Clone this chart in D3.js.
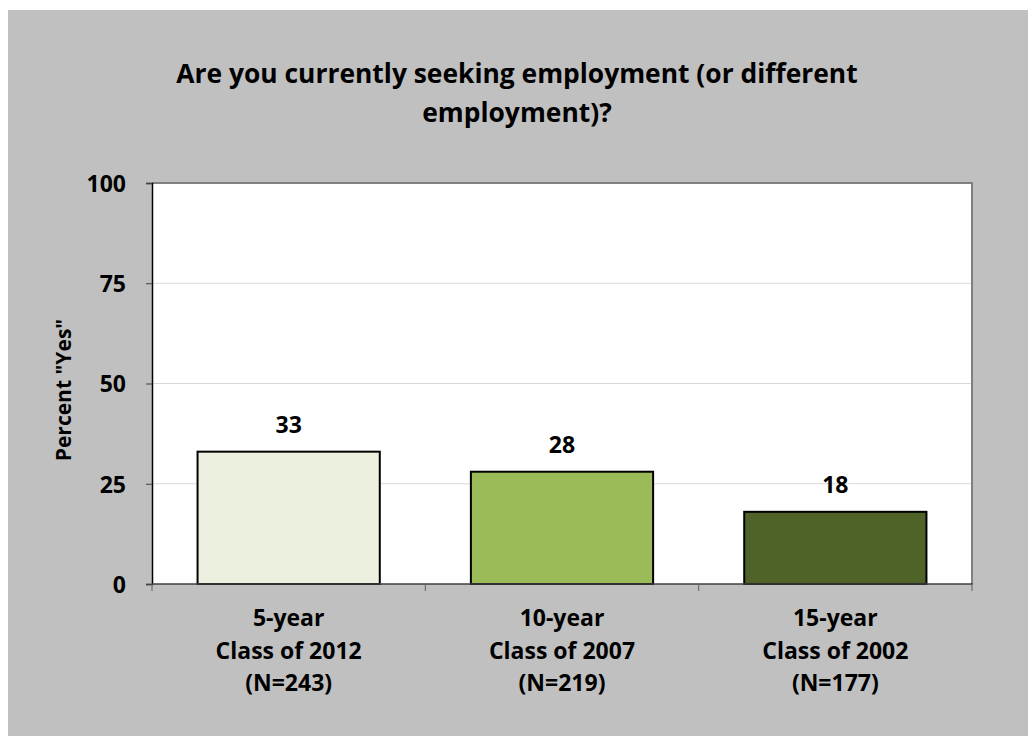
<!DOCTYPE html>
<html>
<head>
<meta charset="utf-8">
<script src="https://cdn.jsdelivr.net/npm/d3@7"></script>
<style>
  html, body { margin: 0; padding: 0; background: #ffffff; }
  svg { display: block; }
  text { font-family: "Open Sans", Lato, "DejaVu Sans", sans-serif; font-weight: bold; fill: #000; }
</style>
</head>
<body>
<script>
// Survey results: share answering "Yes", by alumni cohort
const titleLines = ["Are you currently seeking employment (or different", "employment)?"];
const categories = [
  ["5-year", "Class of 2012", "(N=243)"],
  ["10-year", "Class of 2007", "(N=219)"],
  ["15-year", "Class of 2002", "(N=177)"]
];
const percentYes = [33, 28, 18];
const barColors = ["#ebf1de", "#9bbb59", "#4f6228"];
const yTicks = [0, 25, 50, 75, 100];
const yLabel = 'Percent "Yes"';

const W = 1028, H = 736;
const plot = { left: 152, top: 183, right: 972, bottom: 584 };
const FONT = "'Open Sans', Lato, sans-serif";
const labelSize = 23;

const svg = d3.select("body").append("svg").attr("width", W).attr("height", H);

// chart area background
svg.append("rect").attr("x", 8).attr("y", 10).attr("width", W - 8).attr("height", H - 10)
  .attr("fill", "#c0c0c0");

const x = d3.scaleBand()
  .domain(categories.map((d, i) => i))
  .range([plot.left, plot.right])
  .paddingInner(1 / 3)
  .paddingOuter(1 / 6);

const y = d3.scaleLinear().domain([0, 100]).range([plot.bottom, plot.top]);

// plot area
svg.append("rect")
  .attr("x", plot.left).attr("y", plot.top)
  .attr("width", plot.right - plot.left).attr("height", plot.bottom - plot.top)
  .attr("fill", "#ffffff");

// gridlines
svg.append("g").selectAll("line")
  .data(yTicks.filter(t => t > 0 && t < 100))
  .join("line")
  .attr("x1", plot.left).attr("x2", plot.right)
  .attr("y1", d => y(d)).attr("y2", d => y(d))
  .attr("stroke", "#d9d9d9").attr("stroke-width", 1);

// plot border (top and right)
svg.append("path")
  .attr("d", `M${plot.left},${plot.top}H${plot.right}V${plot.bottom}`)
  .attr("fill", "none").attr("stroke", "#808080").attr("stroke-width", 2);

// bars
svg.append("g").selectAll("rect")
  .data(percentYes)
  .join("rect")
  .attr("x", (d, i) => x(i))
  .attr("y", d => y(d))
  .attr("width", x.bandwidth())
  .attr("height", d => y(0) - y(d))
  .attr("fill", (d, i) => barColors[i])
  .attr("stroke", "#000").attr("stroke-width", 2);

// value labels
svg.append("g").selectAll("text")
  .data(percentYes)
  .join("text")
  .attr("x", (d, i) => x(i) + x.bandwidth() / 2)
  .attr("y", d => y(d) - 19)
  .attr("text-anchor", "middle")
  .attr("font-size", labelSize)
  .text(d => d);

// y axis
const yAxis = svg.append("g")
  .attr("transform", `translate(${plot.left},0)`)
  .call(d3.axisLeft(y).tickValues(yTicks).tickSize(6).tickPadding(20));
yAxis.select(".domain").attr("stroke", "#000").attr("stroke-width", 1.5);
yAxis.selectAll(".tick line").attr("stroke", "#404040");
yAxis.selectAll(".tick text").attr("dy", "0.36em")
  .style("font-size", labelSize + "px")
  .style("font-family", FONT).style("font-weight", "bold");

// x axis: ticks at category boundaries
const boundaries = d3.range(categories.length + 1).map(i => plot.left + i * x.step());
svg.append("line")
  .attr("x1", plot.left).attr("x2", plot.right + 1)
  .attr("y1", plot.bottom).attr("y2", plot.bottom)
  .attr("stroke", "#404040").attr("stroke-width", 1.5);
svg.append("g").selectAll("line")
  .data(boundaries)
  .join("line")
  .attr("x1", d => d).attr("x2", d => d)
  .attr("y1", plot.bottom).attr("y2", plot.bottom + 7)
  .attr("stroke", "#606060").attr("stroke-width", 1);

// category labels
const catG = svg.append("g").selectAll("text")
  .data(categories)
  .join("text")
  .attr("text-anchor", "middle")
  .attr("font-size", labelSize);
catG.selectAll("tspan")
  .data((d, i) => d.map(line => ({ line, i })))
  .join("tspan")
  .attr("x", d => x(d.i) + x.bandwidth() / 2)
  .attr("y", (d, j) => 626 + j * 32.5)
  .text(d => d.line);

// y axis title
svg.append("text")
  .attr("transform", `translate(${71},${390}) rotate(-90)`)
  .attr("text-anchor", "middle")
  .attr("font-size", 21)
  .text(yLabel);

// chart title
svg.append("g").selectAll("text")
  .data(titleLines)
  .join("text")
  .attr("x", 517)
  .attr("y", (d, i) => 83 + i * 39)
  .attr("text-anchor", "middle")
  .attr("font-size", 26.4)
  .text(d => d);
</script>
</body>
</html>
